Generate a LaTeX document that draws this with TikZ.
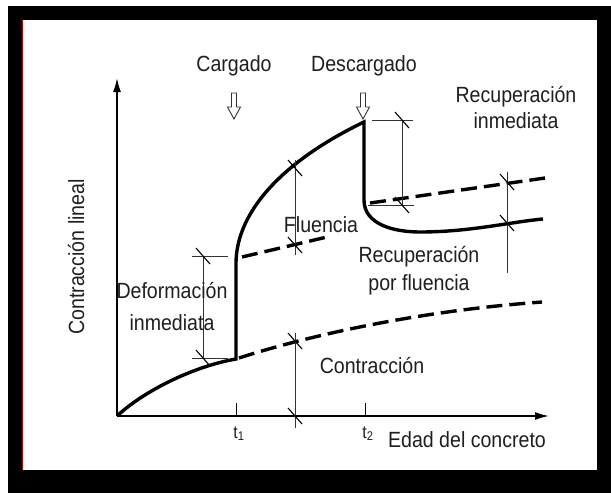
\documentclass[tikz,border=0pt]{standalone}
\usepackage{fontspec}
\setmainfont[FakeStretch=0.89]{Liberation Sans}
\usetikzlibrary{arrows.meta}
\begin{document}
\begin{tikzpicture}[x=1pt,y=-1pt,
  lbl/.style={font=\fontsize{22}{26}\selectfont, inner sep=0pt, anchor=base, text=black!88},
  tlbl/.style={font=\fontsize{18}{21}\selectfont, inner sep=0pt, anchor=base, text=black!88},
  heavy/.style={line width=3.4pt},
  heavydash/.style={line width=3.4pt, dash pattern=on 16pt off 7pt},
  dimline/.style={line width=0.9pt, black!80},
  axisline/.style={line width=1.6pt, -{Latex[length=14pt,width=8pt]}},
  tk/.pic={\draw[line width=1.1pt] (-7,-8) -- (7,8);},
  hollowarrow/.pic={\draw[line width=0.9pt, black!80, fill=white]
     (-2.5,0) -- (2.5,0) -- (2.5,14) -- (6.5,14) -- (0,26) -- (-6.5,14) -- (-2.5,14) -- cycle;}
]
% frame
\useasboundingbox (0,0) rectangle (611,493);
\fill[white] (0,0) rectangle (611,493);
\fill[black] (8,6) rectangle (611,493);
\fill[white] (22,20) rectangle (597,470);
\draw[red!80!black, line width=0.8pt] (22,20) -- (22,470);

% named points
\coordinate (O) at (117,416);
\coordinate (Ytop) at (117,78);
\coordinate (Xend) at (549,416);
\coordinate (A) at (236,359);
\coordinate (B) at (236,262);
\coordinate (P) at (364,122);
\coordinate (Q) at (364,200);
\coordinate (R) at (420,232);
\coordinate (S) at (543,219);
\coordinate (D1s) at (370,203);
\coordinate (D1e) at (545,178);
\coordinate (D2s) at (242,257);
\coordinate (D2e) at (327,237);
\coordinate (D3s) at (239,358);
\coordinate (D3e) at (542,302);

% axes
\draw[axisline] (O) -- (Ytop);
\draw[axisline] (O) -- (Xend);
\coordinate (t1a) at (236,403); \coordinate (t1b) at (236,416);
\coordinate (t2a) at (365,403); \coordinate (t2b) at (365,416);
\draw[line width=1pt] (t1a) -- (t1b);
\draw[line width=1pt] (t2a) -- (t2b);

% main curve
\draw[heavy] (O) .. controls (145,390) and (195,366) .. (A) -- (B)
  .. controls (237,210) and (285,160) .. (P) -- (Q)
  .. controls (364,225) and (395,232) .. (R)
  .. controls (470,232) and (510,222) .. (S);

% dashed lines
\draw[heavydash] (D1s) -- (D1e);
\draw[heavydash] (D2s) -- (D2e);
\draw[heavydash] (D3s) .. controls (320,332) and (430,310) .. (D3e);

% dimension lines: deformacion inmediata
\coordinate (di1) at (192,256); \coordinate (di2) at (228,256);
\coordinate (di3) at (192,358); \coordinate (di4) at (228,358);
\coordinate (div1) at (203,256); \coordinate (div2) at (203,358);
\draw[dimline] (di1) -- (di2);
\draw[dimline] (di3) -- (di4);
\draw[dimline] (div1) -- (div2);
\pic at (div1) {tk};
\pic at (div2) {tk};

% fluencia
\coordinate (fl1) at (295,160); \coordinate (fl2) at (295,255);
\draw[dimline] (fl1) -- (fl2);
\pic at (295,168) {tk};
\pic at (295,245) {tk};

% contraccion
\coordinate (co1) at (295,333); \coordinate (co2) at (295,428);
\draw[dimline] (co1) -- (co2);
\pic at (295,341) {tk};
\pic at (295,416) {tk};

% recuperacion inmediata
\coordinate (ri1) at (372,120); \coordinate (ri2) at (413,120);
\coordinate (ri3) at (368,205); \coordinate (ri4) at (414,205);
\coordinate (riv1) at (402,120); \coordinate (riv2) at (402,205);
\draw[dimline] (ri1) -- (ri2);
\draw[dimline] (ri3) -- (ri4);
\draw[dimline] (riv1) -- (riv2);
\pic at (riv1) {tk};
\pic at (riv2) {tk};

% recuperacion por fluencia
\coordinate (rf1) at (507,172); \coordinate (rf2) at (507,273);
\draw[dimline] (rf1) -- (rf2);
\pic at (507,182) {tk};
\pic at (507,223) {tk};

% load arrows
\pic at (234,93) {hollowarrow};
\pic at (363,93) {hollowarrow};

% labels
\node[lbl] (cargado) at (234,71) {Cargado};
\node[lbl] (descargado) at (364,71) {Descargado};
\node[lbl] (recinm1) at (516,102) {Recuperación};
\node[lbl] (recinm2) at (516,128) {inmediata};
\node[lbl] (fluencia) at (321,232) {Fluencia};
\node[lbl] (recfl1) at (419,262) {Recuperación};
\node[lbl] (recfl2) at (419,290) {por fluencia};
\node[lbl] (def1) at (172,298) {Deformación};
\node[lbl] (def2) at (172,330) {inmediata};
\node[lbl] (contr) at (372,373) {Contracción};
\node[lbl, rotate=90] (ylab) at (84,257) {Contracción lineal};
\node[lbl] (xlab) at (467,447) {Edad del concreto};
\node[tlbl] (t1) at (239,438) {t\textsubscript{1}};
\node[tlbl] (t2) at (368,438) {t\textsubscript{2}};
\end{tikzpicture}
\end{document}
